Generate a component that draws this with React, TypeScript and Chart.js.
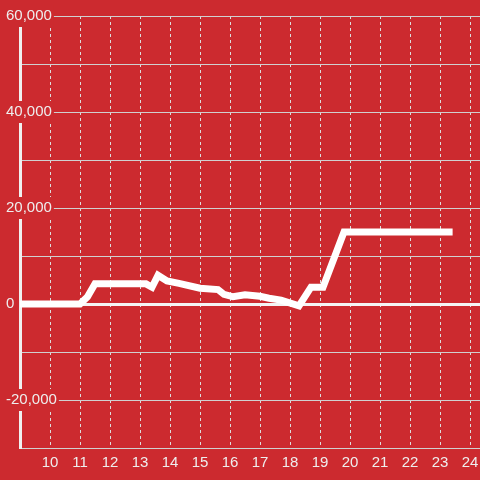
import React, { useEffect, useRef } from "react";
import { Chart, registerables } from "chart.js";

Chart.register(...registerables);

const xValues = [9, 11, 11.25, 11.5, 13.2, 13.4, 13.6, 13.9, 14.3, 15, 15.6, 15.8, 16.1, 16.5, 17, 17.3, 17.7, 18.3, 18.7, 19.1, 19.8, 23.42];
const yValues = [0, 0, 1500, 4200, 4200, 3500, 6000, 4800, 4300, 3300, 3000, 2000, 1500, 1900, 1600, 1200, 800, -400, 3500, 3500, 15000, 15000];
const xTicks = [10, 11, 12, 13, 14, 15, 16, 17, 18, 19, 20, 21, 22, 23, 24];
const yLabelled = [60000, 40000, 20000, 0, -20000];

const BG = "#cc2a2f";
const FONT = "'Liberation Sans', Arial, sans-serif";

export default function App() {
  const ref = useRef<HTMLCanvasElement | null>(null);
  useEffect(() => {
    if (!ref.current) return;
    const chart = new Chart(ref.current, {
      type: "line",
      data: {
        datasets: [
          {
            data: xValues.map((x, i) => ({ x, y: yValues[i] })),
            borderColor: "#ffffff",
            borderWidth: 7,
            borderJoinStyle: "miter",
            borderCapStyle: "butt",
            pointRadius: 0,
            tension: 0,
            fill: false,
          },
        ],
      },
      options: {
        animation: false,
        responsive: false,
        layout: { padding: { left: 6, top: 16, right: 0, bottom: 2 } },
        plugins: { legend: { display: false }, tooltip: { enabled: false } },
        font: { family: FONT, size: 15 },
        scales: {
          x: {
            type: "linear",
            min: 9,
            max: 24.333,
            afterBuildTicks: (s: any) => {
              s.ticks = xTicks.map((v) => ({ value: v }));
            },
            afterFit: (s: any) => {
              s.paddingRight = 0;
              s.paddingLeft = 0;
            },
            grid: {
              color: "#dddddd",
              lineWidth: 1,
              drawTicks: false,
            },
            border: { display: true, color: "#d0d0d0", width: 1, dash: [3, 3] } as any,
            ticks: {
              color: "#eeeeee",
              padding: 6,
              font: { family: FONT, size: 15 },
              maxRotation: 0,
              autoSkip: false,
            },
          },
          y: {
            type: "linear",
            min: -30000,
            max: 60000,
            afterFit: (s: any) => {
              s.width = 14;
            },
            grid: {
              color: (c: any) => (c.tick && c.tick.value === 0 ? "#f4f4f4" : "#d0d0d0"),
              lineWidth: (c: any) => (c.tick && c.tick.value === 0 ? 3 : 1),
              drawTicks: false,
            },
            border: { display: true, color: "#f0f0f0", width: 3 },
            ticks: {
              stepSize: 10000,
              color: "#eeeeee",
              mirror: true,
              crossAlign: "near",
              padding: -14,
              font: { family: FONT, size: 15 },
              showLabelBackdrop: true,
              backdropColor: BG,
              backdropPadding: 2,
              callback: (v: any) => {
                const n = Number(v);
                return yLabelled.includes(n) ? n.toLocaleString("en-US") : "";
              },
            } as any,
          },
        },
      } as any,
    });
    return () => chart.destroy();
  }, []);
  return (
    <div style={{ position: "fixed", left: 0, top: 0, width: 480, height: 480, background: BG }}>
      <canvas ref={ref} width={480} height={480} style={{ display: "block", width: 480, height: 480 }} />
    </div>
  );
}
